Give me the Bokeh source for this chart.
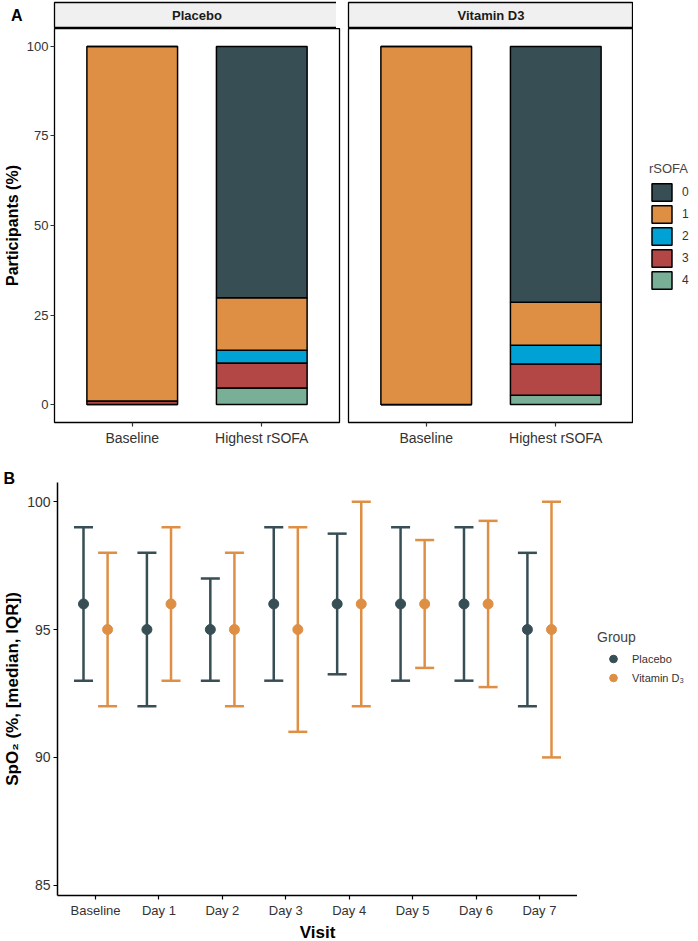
import math
from bokeh.plotting import figure
from bokeh.models import (Range1d, FixedTicker, Legend, LegendItem, Label,
                          ColumnDataSource)
from bokeh.layouts import column, row
from bokeh.embed import file_html
from bokeh.resources import INLINE

FONT = "Liberation Sans"
NAN = float("nan")

# ---------------- Panel A data (percent of participants) ----------------
arms = ["Placebo", "Vitamin D3"]
timepoints = ["Baseline", "Highest rSOFA"]
rsofa_levels = ["0", "1", "2", "3", "4"]
rsofa_colors = ["#374E55", "#DF8F44", "#00A1D5", "#B24745", "#79AF97"]

placebo_rsofa0 = [0.0, 70.2]
placebo_rsofa1 = [99.0, 14.6]
placebo_rsofa2 = [0.0, 3.6]
placebo_rsofa3 = [1.0, 7.0]
placebo_rsofa4 = [0.0, 4.6]

vitd_rsofa0 = [0.0, 71.4]
vitd_rsofa1 = [100.0, 12.0]
vitd_rsofa2 = [0.0, 5.3]
vitd_rsofa3 = [0.0, 8.7]
vitd_rsofa4 = [0.0, 2.6]

pct_ticks = [0, 25, 50, 75, 100]

# ---------------- Panel B data (SpO2 median, IQR) ----------------
visits = ["Baseline", "Day 1", "Day 2", "Day 3", "Day 4", "Day 5", "Day 6", "Day 7"]
placebo_median = [96, 95, 95, 96, 96, 96, 96, 95]
placebo_q1 = [93, 92, 93, 93, 93.25, 93, 93, 92]
placebo_q3 = [99, 98, 97, 99, 98.75, 99, 99, 98]
vitd_median = [95, 96, 95, 95, 96, 96, 96, 95]
vitd_q1 = [92, 93, 92, 91, 92, 93.5, 92.75, 90]
vitd_q3 = [98, 99, 98, 99, 100, 98.5, 99.25, 100]
spo2_ticks = [85, 90, 95, 100]

group_labels = ["Placebo", "Vitamin D\u2083"]
group_colors = ["#374E55", "#DF8F44"]

# ---------------- layout constants ----------------
FW_A = 285
FH_A = 394
STRIP_H = 26
STRIP_TOP = 2
BOTTOM_A = 24
LEFT_A = 47
RIGHT_A1 = 4
LEFT_A2 = 5
TOTAL_A = STRIP_TOP + STRIP_H + FH_A + BOTTOM_A

FW_B = 520
FH_B = 413
TOP_B = 34
BOTTOM_B = 40
LEFT_B = 54
TOTAL_B = TOP_B + FH_B + BOTTOM_B

TICK_COLOR = "#333333"


def style_axes(p, xtick_size, ytick_size, label_size):
    for ax, ts in ((p.xaxis, xtick_size), (p.yaxis, ytick_size)):
        ax.major_label_text_font = FONT
        ax.major_label_text_font_size = ts
        ax.major_label_text_color = TICK_COLOR
        ax.axis_label_text_font = FONT
        ax.axis_label_text_font_style = "bold"
        ax.axis_label_text_font_size = label_size
        ax.axis_label_text_color = "black"
        ax.major_tick_out = 4
        ax.major_tick_in = 0
        ax.minor_tick_out = 0
        ax.minor_tick_in = 0
        ax.major_tick_line_color = TICK_COLOR
        ax.major_tick_line_width = 1.2


def make_strip(title, left, right, tag=None):
    s = figure(frame_width=FW_A, frame_height=STRIP_H,
               x_range=Range1d(0, 1), y_range=Range1d(0, 1),
               x_axis_location=None,
               y_axis_location="left" if tag else None,
               toolbar_location=None, output_backend="svg",
               min_border_left=left, min_border_right=right,
               min_border_top=STRIP_TOP, min_border_bottom=0)
    s.grid.visible = False
    s.background_fill_color = "#f0f0f0"
    s.outline_line_color = "black"
    s.outline_line_width = 1.3
    s.add_layout(Label(x=0.5, y=0.5, text=title, text_align="center",
                       text_baseline="middle", text_font=FONT,
                       text_font_style="bold", text_font_size="13px",
                       text_color="#1a1a1a"))
    if tag:
        ax = s.yaxis[0]
        ax.ticker = FixedTicker(ticks=[])
        ax.axis_line_color = None
        ax.major_tick_out = 0
        ax.major_tick_in = 0
        ax.minor_tick_out = 0
        ax.minor_tick_in = 0
        ax.major_label_standoff = 0
        ax.axis_label = tag
        ax.axis_label_orientation = "horizontal"
        ax.axis_label_standoff = 32
        ax.axis_label_text_font = FONT
        ax.axis_label_text_font_style = "bold"
        ax.axis_label_text_font_size = "16px"
        ax.axis_label_text_color = "black"
    return s


def make_bar_panel(vals, show_y, left, right):
    xpos = [i + 1 for i in range(len(timepoints))]
    p = figure(frame_width=FW_A, frame_height=FH_A,
               x_range=Range1d(0.4, len(timepoints) + 0.6),
               y_range=Range1d(-5, 105),
               y_axis_location="left" if show_y else None,
               toolbar_location=None, output_backend="svg",
               min_border_left=left, min_border_right=right,
               min_border_top=0, min_border_bottom=BOTTOM_A)
    data = dict(x=xpos)
    for lvl, v in zip(rsofa_levels, vals):
        data["r" + lvl] = v
    src = ColumnDataSource(data)
    order = list(reversed(rsofa_levels))  # level 4 at bottom, level 0 on top
    cmap = dict(zip(rsofa_levels, rsofa_colors))
    p.vbar_stack(["r" + l for l in order], x="x", width=0.7, source=src,
                 fill_color=[cmap[l] for l in order],
                 line_color="black", line_width=1.5)
    p.grid.visible = False
    p.outline_line_color = "black"
    p.outline_line_width = 1.3
    p.xaxis.ticker = FixedTicker(ticks=xpos)
    p.xaxis.major_label_overrides = {x: t for x, t in zip(xpos, timepoints)}
    p.xaxis.axis_line_color = None
    p.xaxis.major_label_standoff = 3
    if show_y:
        p.yaxis.ticker = FixedTicker(ticks=pct_ticks)
        p.yaxis.axis_line_color = None
        p.yaxis.axis_label = "Participants (%)"
        p.yaxis.major_label_standoff = 2
        p.yaxis.axis_label_standoff = 3
    style_axes(p, "14px", "13px", "16px")
    return p


placebo_vals = [placebo_rsofa0, placebo_rsofa1, placebo_rsofa2, placebo_rsofa3, placebo_rsofa4]
vitd_vals = [vitd_rsofa0, vitd_rsofa1, vitd_rsofa2, vitd_rsofa3, vitd_rsofa4]

stripA1 = make_strip(arms[0], LEFT_A, RIGHT_A1, tag="A")
pA1 = make_bar_panel(placebo_vals, True, LEFT_A, RIGHT_A1)
stripA2 = make_strip(arms[1], LEFT_A2, 0)
pA2 = make_bar_panel(vitd_vals, False, LEFT_A2, 0)

# ---- rSOFA legend (own small canvas; key renderers hold no drawable point) ----
legA_fig = figure(width=56, height=TOTAL_A, x_range=Range1d(0, 1), y_range=Range1d(0, 1),
                  x_axis_location=None, y_axis_location=None, min_border=0,
                  toolbar_location=None, output_backend="svg")
legA_fig.grid.visible = False
legA_fig.outline_line_color = None
itemsA = []
for lvl, col in zip(rsofa_levels, rsofa_colors):
    r = legA_fig.vbar(x=[NAN], top=[NAN], bottom=[NAN], width=0.5, fill_color=col,
                      line_color="black", line_width=1.5)
    itemsA.append(LegendItem(label=lvl, renderers=[r]))
legA = Legend(items=itemsA, title="rSOFA", location=(16, 155),
              glyph_width=25, glyph_height=22, spacing=0, label_standoff=8,
              title_text_font=FONT, title_text_font_size="13px",
              title_text_font_style="normal", title_standoff=5,
              label_text_font=FONT, label_text_font_size="12px",
              label_text_color=TICK_COLOR,
              border_line_color=None, background_fill_alpha=0,
              padding=0, margin=0)
legA_fig.add_layout(legA, "center")

# ---------------- Panel B ----------------
xpos_b = [i + 1 for i in range(len(visits))]
dodge = 0.19
cap = 0.15

pB = figure(frame_width=FW_B, frame_height=FH_B,
            x_range=Range1d(0.4, len(visits) + 0.6),
            y_range=Range1d(84.6, 100.75),
            toolbar_location=None, output_backend="svg",
            min_border_left=LEFT_B, min_border_right=0,
            min_border_top=TOP_B, min_border_bottom=BOTTOM_B)
pB.grid.visible = False
pB.outline_line_color = None

legB_fig = figure(width=108, height=TOTAL_B, x_range=Range1d(0, 1), y_range=Range1d(0, 1),
                  x_axis_location=None, y_axis_location=None, min_border=0,
                  toolbar_location=None, output_backend="svg")
legB_fig.grid.visible = False
legB_fig.outline_line_color = None

itemsB = []
for gi, (lab, col, med, q1, q3) in enumerate([
        (group_labels[0], group_colors[0], placebo_median, placebo_q1, placebo_q3),
        (group_labels[1], group_colors[1], vitd_median, vitd_q1, vitd_q3)]):
    off = -dodge if gi == 0 else dodge
    xs = [x + off for x in xpos_b]
    src = ColumnDataSource(dict(x=xs, xl=[x - cap for x in xs], xr=[x + cap for x in xs],
                                med=med, lo=q1, hi=q3))
    pB.segment(x0="x", y0="lo", x1="x", y1="hi", source=src, line_color=col, line_width=2.5)
    pB.segment(x0="xl", y0="lo", x1="xr", y1="lo", source=src, line_color=col, line_width=2.5)
    pB.segment(x0="xl", y0="hi", x1="xr", y1="hi", source=src, line_color=col, line_width=2.5)
    pB.scatter(x="x", y="med", source=src, size=10, fill_color=col, line_color=col)
    kbar = legB_fig.scatter(x=[NAN], y=[NAN], marker="dash", angle=math.pi / 2, size=10,
                            line_color=col, line_width=2.5)
    kpt = legB_fig.scatter(x=[NAN], y=[NAN], marker="circle", size=10,
                           fill_color=col, line_color=col)
    itemsB.append(LegendItem(label=lab, renderers=[kbar, kpt]))

pB.xaxis.ticker = FixedTicker(ticks=xpos_b)
pB.xaxis.major_label_overrides = {x: t for x, t in zip(xpos_b, visits)}
pB.xaxis.axis_label = "Visit"
pB.yaxis.ticker = FixedTicker(ticks=spo2_ticks)
pB.yaxis.axis_label = "SpO\u2082 (%, [median, IQR])"
style_axes(pB, "13px", "14px", "17px")
for ax in pB.axis:
    ax.axis_line_color = "black"
    ax.axis_line_width = 1.5
    ax.major_tick_line_color = "black"
    ax.major_label_standoff = 3
    ax.axis_label_standoff = 2

pB.title.text = "B"
pB.title.align = "left"
pB.title.offset = -LEFT_B
pB.title.standoff = -8
pB.title.text_font = FONT
pB.title.text_font_style = "bold"
pB.title.text_font_size = "16px"
pB.title.text_color = "black"

legB = Legend(items=itemsB, title="Group", location=(20, 199),
              glyph_width=32, glyph_height=19, spacing=0, label_standoff=3,
              title_text_font=FONT, title_text_font_size="14px",
              title_text_font_style="normal", title_standoff=4,
              label_text_font=FONT, label_text_font_size="11px",
              label_text_color=TICK_COLOR,
              border_line_color=None, background_fill_alpha=0,
              padding=0, margin=0)
legB_fig.add_layout(legB, "center")

layout = column(
    row(column(stripA1, pA1), column(stripA2, pA2), legA_fig),
    row(pB, legB_fig),
)

open("out.html", "w").write(file_html(layout, INLINE))
